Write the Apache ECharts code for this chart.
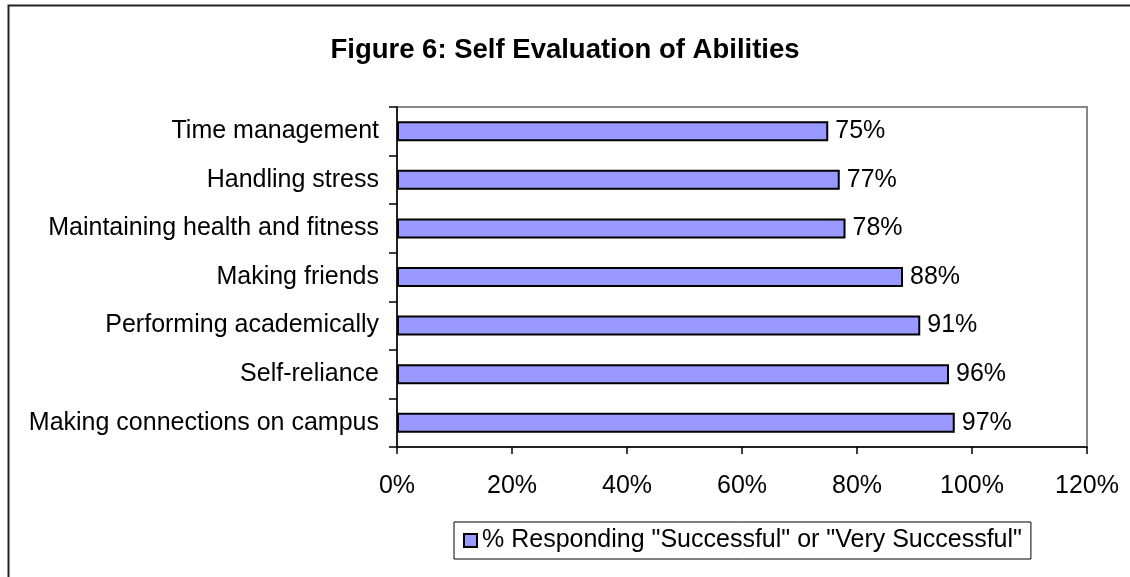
<!DOCTYPE html>
<html>
<head>
<meta charset="utf-8">
<style>
html,body{margin:0;padding:0;background:#fff;}
#chart{width:1130px;height:577px;}
</style>
<script src="https://cdn.jsdelivr.net/npm/echarts@6/dist/echarts.min.js"></script>
</head>
<body>
<div id="chart"></div>
<script>
const categories = ["Time management","Handling stress","Maintaining health and fitness","Making friends","Performing academically","Self-reliance","Making connections on campus"];
const values = [75, 77, 78, 88, 91, 96, 97];
const seriesName = '% Responding "Successful" or "Very Successful"';
const xTicks = [0, 20, 40, 60, 80, 100, 120];
const titleText = "Figure 6: Self Evaluation of Abilities";

const FONT = '"Liberation Sans", Arial, sans-serif';
const chart = echarts.init(document.getElementById('chart'), null, {renderer: 'canvas'});
chart.setOption({
  animation: false,
  backgroundColor: '#fff',
  title: {
    text: titleText,
    left: 'center',
    top: 31,
    textStyle: {fontFamily: FONT, fontSize: 27.5, fontWeight: 'bold', color: '#000'}
  },
  graphic: [{
    type: 'rect',
    shape: {x: 8.5, y: 5.5, width: 1300, height: 700},
    style: {fill: 'none', stroke: '#222', lineWidth: 2},
    silent: true, z: 100
  }],
  grid: {
    left: 397, right: 43, top: 107, height: 340,
    show: true, borderColor: '#888', borderWidth: 2, backgroundColor: '#fff'
  },
  legend: {
    data: [seriesName],
    left: 454, top: 522,
    padding: [6, 9, 6, 9],
    borderColor: '#000', borderWidth: 1,
    icon: 'rect', itemWidth: 13, itemHeight: 13, itemGap: 5,
    textStyle: {fontFamily: FONT, fontSize: 25, color: '#000', padding: [0,0,0,0]},
    itemStyle: {borderColor: '#000', borderWidth: 2}
  },
  xAxis: {
    type: 'value', min: 0, max: 120, interval: 20,
    axisLine: {show: true, lineStyle: {color: '#000', width: 1.5}},
    axisTick: {show: true, length: 7, lineStyle: {color: '#000', width: 1.5}},
    splitLine: {show: false},
    axisLabel: {fontFamily: FONT, fontSize: 25, color: '#000', margin: 27,
      formatter: v => xTicks.includes(v) ? v + '%' : ''}
  },
  yAxis: {
    type: 'category', data: categories, inverse: true,
    axisLine: {show: true, lineStyle: {color: '#000', width: 1.5}},
    axisTick: {show: true, length: 8, interval: 0, lineStyle: {color: '#000', width: 1.5}},
    axisLabel: {fontFamily: FONT, fontSize: 25, color: '#000', margin: 18}
  },
  series: [{
    name: seriesName,
    type: 'bar',
    data: values,
    barWidth: 20,
    itemStyle: {color: '#9999FF', borderColor: '#000', borderWidth: 2},
    label: {show: true, position: 'right', distance: 7, formatter: '{c}%',
      fontFamily: FONT, fontSize: 25, color: '#000'}
  }]
});
</script>
</body>
</html>
